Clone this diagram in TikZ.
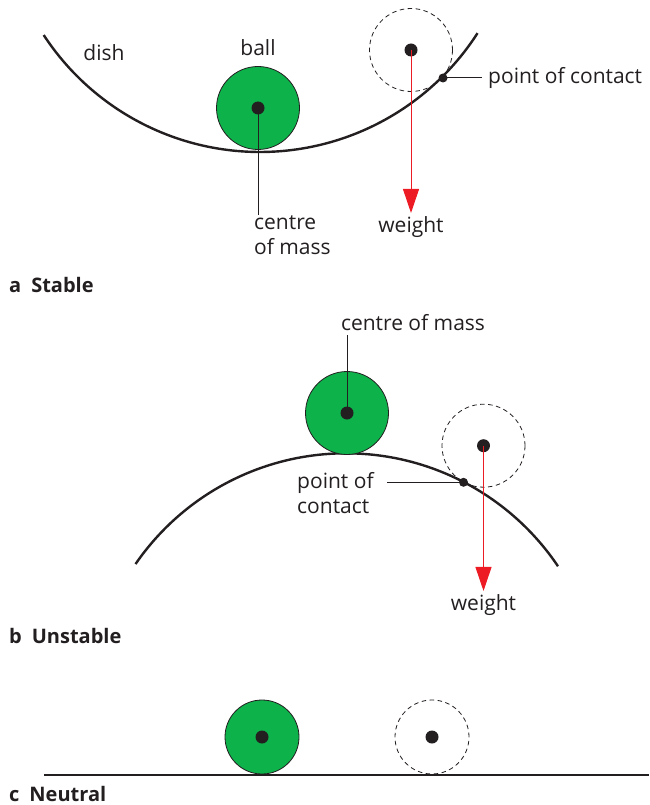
\documentclass[tikz,border=0pt]{standalone}
\usepackage{fontspec}
\setmainfont{Open Sans}
\usepackage{tikz}
\usetikzlibrary{arrows.meta,positioning,calc}
\definecolor{ballgreen}{RGB}{13,178,75}
\definecolor{wred}{RGB}{237,28,36}
\definecolor{ink}{RGB}{35,31,32}

\begin{document}
\begin{tikzpicture}[
  x=1pt, y=-1pt,
  every node/.style={font=\fontsize{21}{25}\selectfont, text=ink},
  ball/.style={circle, draw=ink, fill=ballgreen, line width=0.8pt, minimum size=83pt, inner sep=0pt},
  ghost/.style={circle, draw=ink, dash pattern=on 4.5pt off 3.5pt, line width=0.8pt, minimum size=83pt, inner sep=0pt},
  com/.style={circle, fill=ink, minimum size=13pt, inner sep=0pt},
  touch/.style={circle, fill=ink, minimum size=9pt, inner sep=0pt},
  surface/.style={draw=ink, line width=2.4pt},
  leader/.style={draw=ink, line width=1pt},
  weight/.style={draw=wred, line width=1pt, -{Triangle[length=24pt, width=16pt]}},
  caption/.style={anchor=base west, inner sep=0pt, font=\fontsize{20}{25}\selectfont\bfseries}
]
\useasboundingbox (0,0) rectangle (649,805);

% a: stable
\coordinate (dishc) at (260,-106.5);
\draw[surface] (dishc) ++(146.8:258.5) arc[start angle=146.8, end angle=32.7, radius=258.5];
\node[ball] (balla) at (258,108) {};
\node[com] (cma) at (balla.center) {};
\node[ghost] (ghosta) at (411,50) {};
\node[com] (wa) at (ghosta.center) {};
\node[touch] (pa) at (443,78) {};
\node (disha) at (104,53) {dish};
\node (ballla) at (258,48) {ball};
\node[anchor=west, inner xsep=6pt] (pcla) at (482,78) {point of contact};
\node[anchor=north west, align=left, inner sep=0pt] (cmla) at (254,215) {centre\\of mass};
\node (wla) at (411,227) {weight};
\draw[leader] (pa.center) -- (pcla.west);
\draw[leader] (cma.center) -- (cma.center |- cmla.north);
\draw[weight] (wa.center) -- (wla.north);
\node[caption] (capa) at (9,292) {a\enspace Stable};

% b: unstable
\coordinate (hillc) at (346,708.7);
\draw[surface] (hillc) ++(-145.5:255.4) arc[start angle=-145.5, end angle=-33.9, radius=255.4];
\node[ball] (ballb) at (347,413) {};
\node[com] (cmb) at (ballb.center) {};
\node[ghost] (ghostb) at (483.5,445.7) {};
\node[com] (wb) at (ghostb.center) {};
\node[touch] (pb) at (463.5,482.3) {};
\node (cmlb) at (413,323) {centre of mass};
\node[anchor=north west, align=left, inner sep=0pt] (pclb) at (297,472) {point of\\contact};
\coordinate (pcb) at (387,482.3);
\node (wlb) at (483.5,605) {weight};
\draw[leader] (cmb.center) -- (cmb.center |- cmlb.south);
\draw[leader] (pb.center) -- (pcb);
\draw[weight] (wb.center) -- (wlb.north);
\node[caption] (capb) at (9,643) {b\enspace Unstable};

% c: neutral
\coordinate (gl) at (44,775);
\coordinate (gr) at (649,775);
\draw[surface, line width=2pt] (gl) -- (gr);
\node[ball, minimum size=74pt] (ballc) at (262,737) {};
\node[com] (cmc) at (ballc.center) {};
\node[ghost, minimum size=74pt] (ghostc) at (432,737) {};
\node[com] (wc) at (ghostc.center) {};
\node[caption] (capc) at (9,801) {c\enspace Neutral};
\end{tikzpicture}
\end{document}
